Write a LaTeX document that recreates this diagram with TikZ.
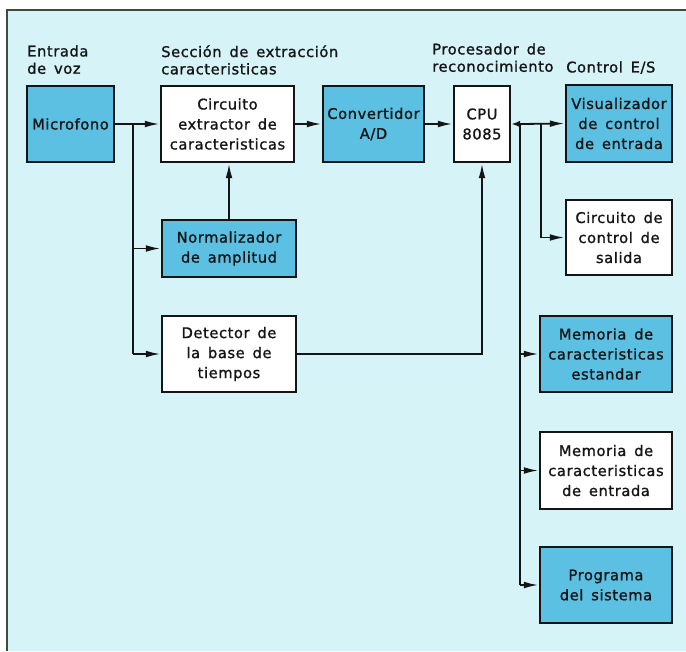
\documentclass[tikz,border=0pt]{standalone}
\usepackage{fontspec}
\setmainfont{DejaVu Sans}[LetterSpace=4, WordSpace=1.5, FakeBold=1.2]
\usetikzlibrary{arrows.meta}
\definecolor{bgc}{HTML}{D6F3F8}
\definecolor{boxblue}{HTML}{5CC0E3}
\definecolor{ink}{HTML}{151515}
\definecolor{framec}{HTML}{3E4C40}
\tikzset{
  blk/.style={draw=ink, line width=2.1pt, align=center, inner sep=2pt,
    font=\fontsize{11}{15}\selectfont, text=ink},
  bluebox/.style={blk, fill=boxblue},
  whitebox/.style={blk, fill=white},
  conn/.style={draw=ink, line width=1.35pt},
  arr/.style={conn, -{Latex[length=11pt,width=5pt]}},
  sarr/.style={conn, -{Latex[length=6.5pt,width=5pt]}},
  hdr/.style={align=left, anchor=north west, inner sep=0pt,
    font=\fontsize{11}{13}\selectfont, text=ink}
}
\begin{document}
\begin{tikzpicture}[x=0.75pt, y=-0.75pt]
\useasboundingbox (0,0) rectangle (686,651);
\fill[white] (0,0) rectangle (686,651);
\fill[bgc] (7,10) rectangle (686,651);
\draw[framec, line width=1.6pt] (7,651) -- (7,10) -- (686,10);

% headers
\node[hdr] (h1) at (27,45) {Entrada\\de voz};
\node[hdr] (h2) at (161,45) {Sección de extracción\\caracteristicas};
\node[hdr] (h3) at (432,43) {Procesador de\\reconocimiento};
\node[hdr] (h4) at (566,61) {Control E/S};

% boxes
\node[bluebox, minimum width=65.25pt, minimum height=57pt] (mic) at (70.5,124) {Microfono};
\node[whitebox, minimum width=99.75pt, minimum height=57pt] (ext) at (227.5,124) {Circuito\\extractor de\\caracteristicas};
\node[bluebox, minimum width=75.75pt, minimum height=57pt] (adc) at (373.5,124) {Convertidor\\A/D};
\node[whitebox, minimum width=42pt, minimum height=57pt] (cpu) at (482,124) {CPU\\8085};
\node[bluebox, minimum width=79.5pt, minimum height=57.75pt] (vis) at (619,123.5) {Visualizador\\de control\\de entrada};
\node[whitebox, minimum width=79.5pt, minimum height=56.25pt] (sal) at (619,237.5) {Circuito de\\control de\\salida};
\node[bluebox, minimum width=99pt, minimum height=57pt] (mst) at (606,354) {Memoria de\\caracteristicas\\estandar};
\node[whitebox, minimum width=99pt, minimum height=57.75pt] (men) at (606,470.5) {Memoria de\\caracteristicas\\de entrada};
\node[bluebox, minimum width=99pt, minimum height=57pt] (prg) at (606,585) {Programa\\del sistema};
\node[bluebox, minimum width=100.5pt, minimum height=42.75pt] (nor) at (229,248.5) {Normalizador\\de amplitud};
\node[whitebox, minimum width=100.5pt, minimum height=57pt] (det) at (229,354) {Detector de\\la base de\\tiempos};

% junctions
\coordinate (j1) at (133,124);
\coordinate (b1) at (520,124);
\coordinate (b2) at (541,124);

% connectors
\draw[arr] (mic.east) -- (ext.west);
\draw[conn] (j1) -- (j1 |- det.west);
\draw[arr] (j1 |- nor.west) -- (nor.west);
\draw[arr] (j1 |- det.west) -- (det.west);
\draw[arr] (nor.north) -- (nor.north |- ext.south);
\draw[arr] (ext.east) -- (adc.west);
\draw[arr] (adc.east) -- (cpu.west);
\draw[arr] (det.east) -| (cpu.south);
\draw[arr] (b1) -- (vis.west);
\draw[sarr] (b1) -- (cpu.east);
\draw[arr] (b2) |- (sal.west);
\draw[conn] (b1) -- (b1 |- prg.west);
\draw[arr] (b1 |- mst.west) -- (mst.west);
\draw[arr] (b1 |- men.west) -- (men.west);
\draw[arr] (b1 |- prg.west) -- (prg.west);
\end{tikzpicture}
\end{document}
